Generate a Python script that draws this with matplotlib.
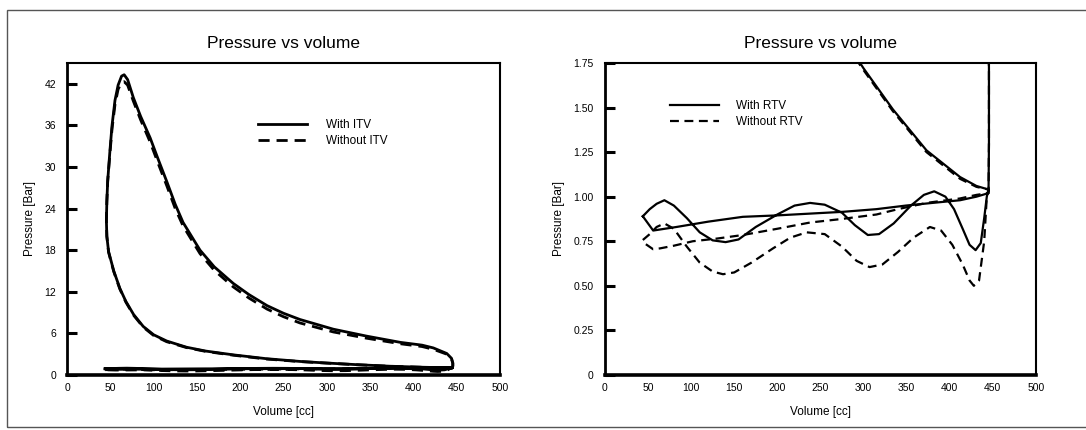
import matplotlib
matplotlib.use("Agg")
from matplotlib import pyplot as plt
from matplotlib.patches import Rectangle

plt.rcParams['font.family'] = ['Liberation Sans', 'DejaVu Sans']

# cycle with the valve: intake -> compression -> combustion/expansion -> blowdown -> exhaust
vol_with = [44, 52, 60, 69, 80, 95, 110, 125, 140, 155, 175, 200, 220, 238, 255, 275, 290, 305, 318, 335,
            355, 370, 382, 395, 405, 415, 423, 430, 436, 440, 443,
            445, 431, 412, 373, 334, 300, 269, 230, 192, 160, 138, 115, 100, 88, 77, 68, 61, 54, 48, 46, 45.5,
            46, 47, 49.6, 52, 55.4, 59, 63, 66, 70, 76.6, 85, 96, 105, 115.5, 125, 134, 153.6, 170, 192, 210,
            231, 250, 269, 307.6, 346, 385, 410, 423, 438.5, 444,
            445.5, 445.5, 445,
            431, 412, 380, 349, 315, 276, 238, 200, 160, 120, 83, 56, 44]
p_with = [0.89, 0.93, 0.96, 0.98, 0.95, 0.88, 0.80, 0.755, 0.745, 0.76, 0.83, 0.90, 0.95, 0.965, 0.955, 0.91,
          0.84, 0.785, 0.79, 0.85, 0.95, 1.01, 1.03, 1.00, 0.93, 0.82, 0.73, 0.70, 0.74, 0.88, 1.00,
          1.04, 1.06, 1.11, 1.26, 1.49, 1.72, 1.95, 2.35, 2.9, 3.45, 4.0, 4.9, 5.8, 7.0, 8.7, 10.6, 12.5, 15,
          17.8, 20, 22.2,
          25, 28, 32.4, 36, 39.6, 41.8, 43.1, 43.3, 42.6, 40.0, 37.3, 34.2, 31.2, 27.8, 24.6, 22.0, 18.0, 15.6,
          13.2, 11.6, 10.0, 8.9, 8.0, 6.6, 5.6, 4.7, 4.3, 3.9, 3.1, 2.4,
          1.72, 1.3, 1.02,
          1.00, 0.98, 0.965, 0.95, 0.93, 0.915, 0.905, 0.895, 0.887, 0.86, 0.83, 0.81, 0.89]

vol_without = [44, 52, 60, 69, 80, 95, 110, 125, 137, 150, 170, 195, 215, 234, 255, 275, 292, 307, 322, 340,
               358, 377, 390, 403, 415, 423, 428, 434, 440, 443,
               445, 431, 412, 373, 334, 300, 269, 230, 192, 160, 138, 115, 100, 88, 77, 68, 61, 54, 48, 46, 45.5,
               46, 47, 49.6, 52, 55.4, 59, 63, 66, 70, 76.6, 85, 96, 105, 115.5, 125, 134, 153.6, 170, 192, 210,
               231, 250, 269, 307.6, 346, 385, 410, 423, 438.5, 444,
               445.5, 445.5, 445,
               431, 412, 373, 340, 315, 275, 238, 200, 160, 130, 102, 80, 64, 56, 44]
p_without = [0.757, 0.79, 0.83, 0.85, 0.82, 0.72, 0.63, 0.58, 0.565, 0.575, 0.63, 0.71, 0.77, 0.80, 0.79, 0.72,
             0.64, 0.605, 0.62, 0.69, 0.77, 0.83, 0.81, 0.73, 0.62, 0.53, 0.50, 0.53, 0.75, 1.00,
             1.04, 1.055, 1.10, 1.25, 1.48, 1.71, 1.93, 2.3, 2.85, 3.4, 3.95, 4.8, 5.7, 6.9, 8.6, 10.5, 12.4,
             14.9, 17.7, 20, 22.2,
             25, 28, 32, 35.5, 39, 41.2, 42.2, 42.3, 41.8, 39.5, 36.8, 33.6, 30.6, 27.2, 24.0, 21.5, 17.5, 15.1,
             12.7, 11.1, 9.5, 8.4, 7.5, 6.2, 5.3, 4.5, 4.1, 3.7, 3.0, 2.3,
             1.72, 1.3, 1.02,
             1.01, 0.99, 0.965, 0.93, 0.90, 0.875, 0.855, 0.82, 0.785, 0.765, 0.75, 0.725, 0.71, 0.705, 0.745]

left_ticks = [0, 6, 12, 18, 24, 30, 36, 42]
right_ticks = [0, 0.25, 0.5, 0.75, 1.0, 1.25, 1.5, 1.75]
right_ticklabels = ['0', '0.25', '0.50', '0.75', '1.00', '1.25', '1.50', '1.75']
x_ticks = [0, 50, 100, 150, 200, 250, 300, 350, 400, 450, 500]

fig = plt.figure(figsize=(10.86, 4.30), dpi=100)
fig.add_artist(Rectangle((7 / 1086, 3 / 430), 1.2, 417 / 430, transform=fig.transFigure,
                         fill=False, edgecolor='#555555', linewidth=1))

ax1 = fig.add_axes([0.0617, 0.128, 0.3987, 0.7256])
ax2 = fig.add_axes([0.557, 0.128, 0.3969, 0.7256])


def style_axes(ax):
    ax.set_xlim(0, 500)
    ax.set_xticks(x_ticks)
    ax.tick_params(axis='x', length=0, pad=6, labelsize=7.5)
    ax.tick_params(axis='y', direction='in', length=7, width=2.2, pad=8, labelsize=7.5)
    ax.spines['bottom'].set_linewidth(2.6)
    ax.spines['left'].set_linewidth(2.0)
    ax.spines['top'].set_linewidth(1.5)
    ax.spines['right'].set_linewidth(1.5)
    ax.set_title('Pressure vs volume', fontsize=12.5, pad=11)
    ax.set_xlabel('Volume [cc]', fontsize=8.5, labelpad=9)
    ax.set_ylabel('Pressure [Bar]', fontsize=8.5, labelpad=6)


ax1.plot(vol_with, p_with, color='black', linewidth=2.0, label='With ITV')
ax1.plot(vol_without, p_without, color='black', linewidth=2.0, dashes=(4, 2.5), label='Without ITV')
ax1.set_ylim(0, 45)
ax1.set_yticks(left_ticks)
style_axes(ax1)
ax1.legend(loc='upper left', bbox_to_anchor=(0.44, 0.82), frameon=False, fontsize=8.5,
           handlelength=4.2, handletextpad=1.6, borderaxespad=0, borderpad=0, labelspacing=0.3)

ax2.plot(vol_with, p_with, color='black', linewidth=1.6, label='With RTV')
ax2.plot(vol_without, p_without, color='black', linewidth=1.6, dashes=(4, 2.5), label='Without RTV')
ax2.set_ylim(0, 1.75)
ax2.set_yticks(right_ticks)
ax2.set_yticklabels(right_ticklabels)
style_axes(ax2)
ax2.legend(loc='upper left', bbox_to_anchor=(0.15, 0.88), frameon=False, fontsize=8.5,
           handlelength=4.2, handletextpad=1.4, borderaxespad=0, borderpad=0, labelspacing=0.3)

fig.savefig('out.png', dpi=100)
